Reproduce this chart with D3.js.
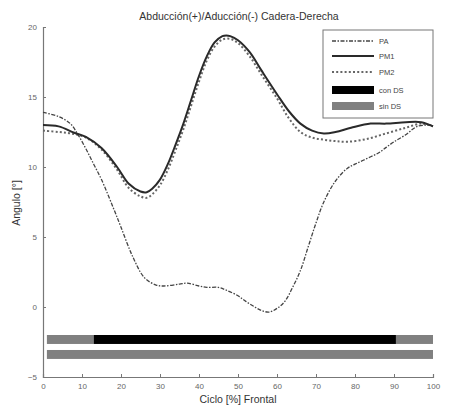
<!DOCTYPE html>
<html><head><meta charset="utf-8">
<script src="https://cdn.jsdelivr.net/npm/d3@7"></script>
<style>body{margin:0;background:#fff}svg{display:block}text{font-family:"Liberation Sans",Arial,sans-serif}</style>
</head><body>
<script>
const title = "Abducción(+)/Aducción(-) Cadera-Derecha";
const xLabel = "Ciclo [%] Frontal";
const yLabel = "Angulo [°]";
const xTicks = [0,10,20,30,40,50,60,70,80,90,100];
const yTicks = [-5,0,5,10,15,20];

const paX = [0,4,7,9,11,13,15,18,20,23,26,29,31,35,37,40,42,45,47,50,52,54,56,58,60,62,64,66,68,70,72,75,78,80,83,86,88,90,93,96,100];
const paY = [13.9,13.6,13.1,12.3,11.3,10.2,9.1,7.1,5.7,3.6,2.1,1.57,1.5,1.64,1.7,1.5,1.4,1.4,1.2,0.8,0.4,0.05,-0.25,-0.36,-0.1,0.4,1.4,2.6,4.3,6.0,7.5,9.0,9.9,10.2,10.6,11.0,11.4,11.8,12.3,12.9,13.0];
const pm1X = [0,4,8,11,15,19,22,25,26.6,28,30,32,34,36,38,40,42,44,46,47,48,50,53,56,60,63,66,69,72,75,79,84,88,93,97,100];
const pm1Y = [13.0,12.9,12.45,12.15,11.35,10.0,8.8,8.25,8.2,8.45,9.1,10.2,11.6,13.1,14.8,16.5,17.9,18.9,19.35,19.4,19.35,19.05,18.2,16.9,15.2,14.0,13.1,12.6,12.4,12.5,12.8,13.1,13.1,13.2,13.2,12.9];
const pm2X = [0,4,7,11,15,19,22,25,26.6,28,30,32,34,36,38,40,42,44,46,48,50,53,56,60,63,66,69,72,75,78,83,88,93,97,100];
const pm2Y = [12.6,12.5,12.4,12.1,11.25,9.8,8.5,7.9,7.8,8.05,8.7,9.8,11.2,12.7,14.4,16.1,17.6,18.6,19.1,19.15,18.85,17.9,16.6,14.9,13.5,12.5,12.1,11.95,11.85,11.8,12.0,12.4,12.8,13.1,12.9];

// bars: start, end, row index, kind
const barStart = [1, 13, 90.5, 1];
const barEnd = [13, 90.5, 100, 100];
const barRow = [0, 0, 0, 1];
const barKind = ["sin","con","sin","sin"];
const rowCenter = [-2.32, -3.39];
const rowHeight = 0.64;

const legendNames = ["PA","PM1","PM2","con DS","sin DS"];

const W=449,H=407;
const svg=d3.select("body").append("svg").attr("width",W).attr("height",H);
const x=d3.scaleLinear().domain([0,100]).range([43,433]);
const y=d3.scaleLinear().domain([-5,20]).range([377,27]);

const axisColor="#777";
const colors={con:"#000",sin:"#808080"};
svg.append("g").selectAll("rect").data(barStart).join("rect")
 .attr("x",(d,i)=>x(d)).attr("width",(d,i)=>x(barEnd[i])-x(d))
 .attr("y",(d,i)=>y(rowCenter[barRow[i]]+rowHeight/2))
 .attr("height",(d,i)=>y(rowCenter[barRow[i]]-rowHeight/2)-y(rowCenter[barRow[i]]+rowHeight/2))
 .attr("fill",(d,i)=>colors[barKind[i]]);

const gx=svg.append("g").attr("transform",`translate(0,${y(-5)})`)
 .call(d3.axisBottom(x).tickValues(xTicks).tickSize(-3).tickPadding(6).tickFormat(d3.format("d")));
const gy=svg.append("g").attr("transform",`translate(${x(0)},0)`)
 .call(d3.axisLeft(y).tickValues(yTicks).tickSize(-3).tickPadding(6).tickFormat(d3.format("d")));
[gx,gy].forEach(g=>{
 g.select(".domain").attr("stroke",axisColor).attr("stroke-width",1.2);
 g.selectAll(".tick line").attr("stroke",axisColor);
 g.selectAll(".tick text").attr("fill","#666").style("font-size","8px");
});

const line=d3.line().curve(d3.curveCatmullRom.alpha(0.5));
function pts(xs,ys){return xs.map((v,i)=>[x(v),y(ys[i])]);}
svg.append("path").attr("d",line(pts(paX,paY))).attr("fill","none")
 .attr("stroke","#444").attr("stroke-width",1.3).attr("stroke-dasharray","4,1.5,1.5,1.5");
svg.append("path").attr("d",line(pts(pm2X,pm2Y))).attr("fill","none")
 .attr("stroke","#666").attr("stroke-width",2).attr("stroke-dasharray","2,2.2");
svg.append("path").attr("d",line(pts(pm1X,pm1Y))).attr("fill","none")
 .attr("stroke","#2a2a2a").attr("stroke-width",2);

svg.append("text").attr("x",239).attr("y",20).attr("text-anchor","middle")
 .style("font-size","10.5px").attr("fill","#333").text(title);
svg.append("text").attr("x",238).attr("y",403).attr("text-anchor","middle")
 .style("font-size","10.5px").attr("fill","#333").text(xLabel);
svg.append("text").attr("transform","translate(20,203) rotate(-90)").attr("text-anchor","middle")
 .style("font-size","10.5px").attr("fill","#333").text(yLabel);

const lg=svg.append("g");
lg.append("rect").attr("x",323).attr("y",30).attr("width",110).attr("height",88)
 .attr("fill","#fff").attr("stroke","#777").attr("stroke-width",1);
const ly=[41,56,72,90,106];
const styles=[
 {stroke:"#444",w:1.3,dash:"4,1.5,1.5,1.5"},
 {stroke:"#2a2a2a",w:2,dash:null},
 {stroke:"#666",w:2,dash:"2,2.2"},
 {fill:"#000"},{fill:"#808080"}];
legendNames.forEach((n,i)=>{
 const s=styles[i];
 if(s.fill){
  lg.append("rect").attr("x",332).attr("y",ly[i]-4).attr("width",42).attr("height",8).attr("fill",s.fill);
 } else {
  lg.append("line").attr("x1",332).attr("x2",374).attr("y1",ly[i]).attr("y2",ly[i])
   .attr("stroke",s.stroke).attr("stroke-width",s.w).attr("stroke-dasharray",s.dash);
 }
 lg.append("text").attr("x",379).attr("y",ly[i]+2.5).style("font-size","7.5px").attr("fill","#444").text(n);
});
</script>
</body></html>
